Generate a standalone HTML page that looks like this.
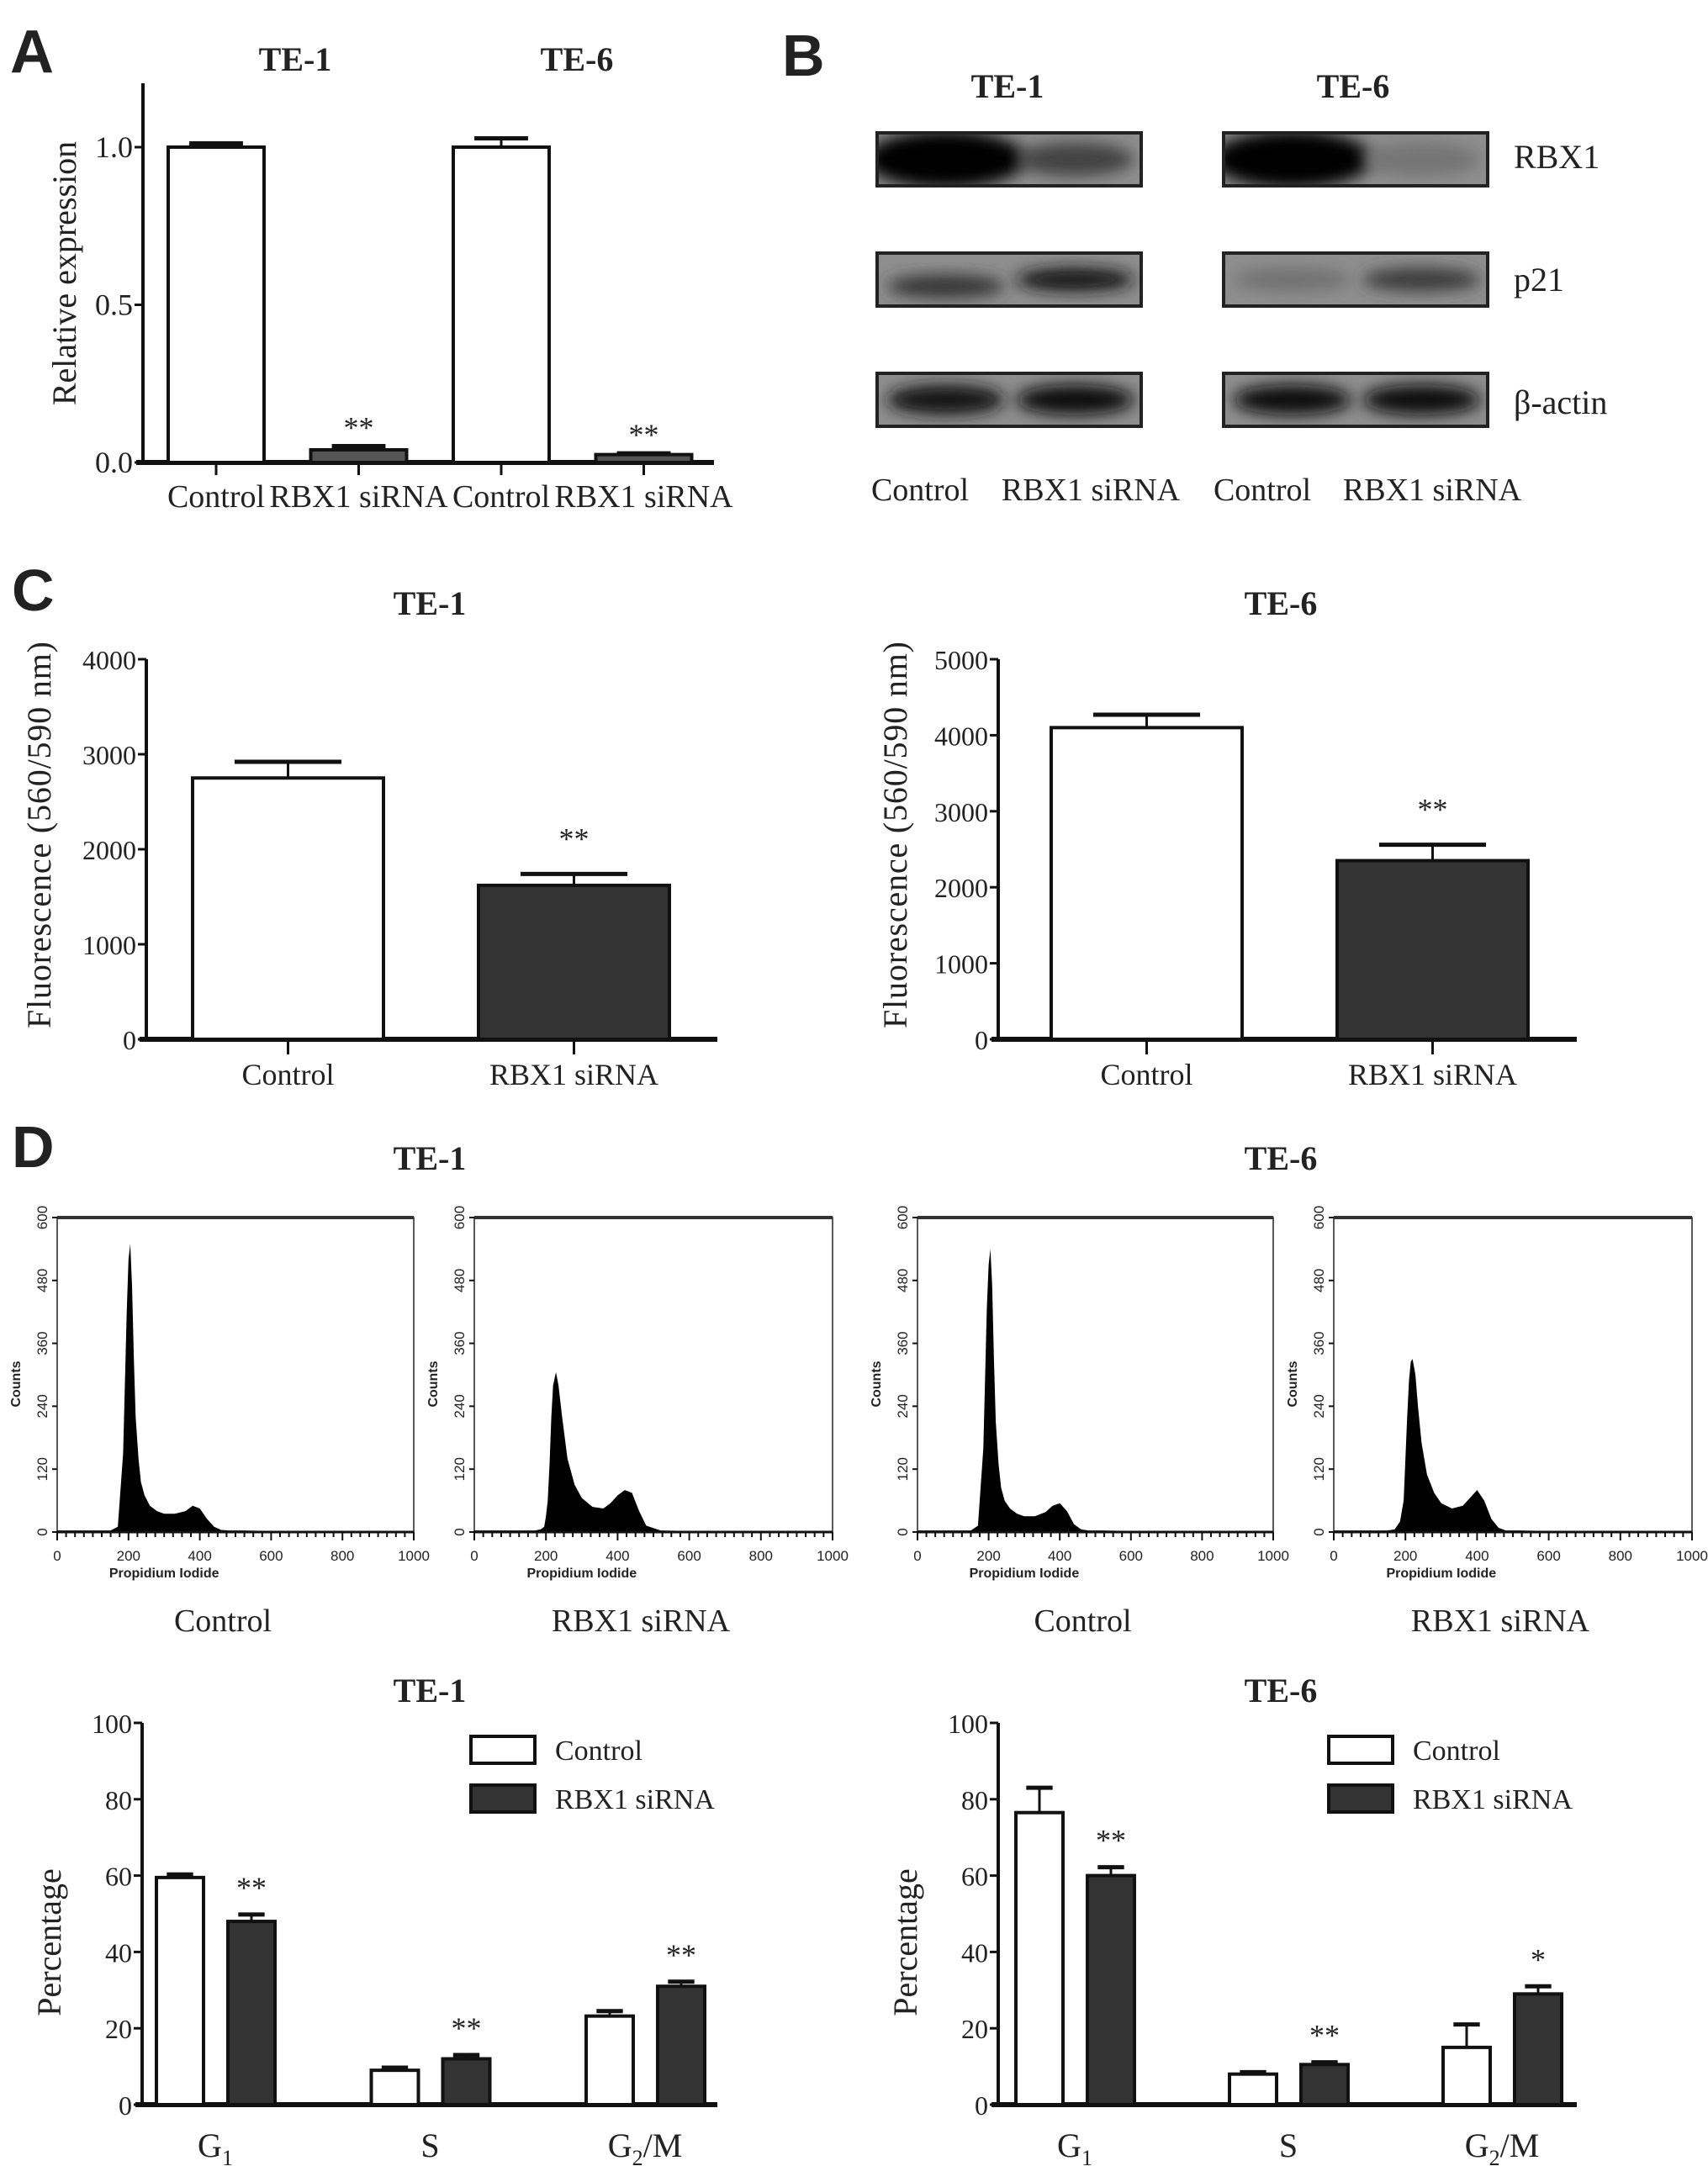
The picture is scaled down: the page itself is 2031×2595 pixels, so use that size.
<!DOCTYPE html>
<html><head><meta charset="utf-8">
<style>
html,body{margin:0;padding:0;background:#fff;}
svg{display:block;}
text{font-family:"Liberation Serif",serif;fill:#222;}
.sans{font-family:"Liberation Sans",sans-serif;}
</style></head>
<body>
<svg id="fig" width="2031" height="2595" viewBox="0 0 2031 2595" xmlns="http://www.w3.org/2000/svg">
<defs>
<filter id="blur8" x="-50%" y="-50%" width="200%" height="200%"><feGaussianBlur stdDeviation="9"/></filter>
</defs>
<text class="sans" x="12" y="86" font-size="72" font-weight="bold" fill="#000">A</text>
<text class="sans" x="930" y="90" font-size="70" font-weight="bold" fill="#000">B</text>
<text class="sans" x="14" y="726" font-size="70" font-weight="bold" fill="#000">C</text>
<text class="sans" x="14" y="1388" font-size="70" font-weight="bold" fill="#000">D</text>

<text x="351" y="84" font-size="40" font-weight="bold" text-anchor="middle">TE-1</text>
<text x="686" y="84" font-size="40" font-weight="bold" text-anchor="middle">TE-6</text>
<text x="1198" y="116" font-size="40" font-weight="bold" text-anchor="middle">TE-1</text>
<text x="1609" y="116" font-size="40" font-weight="bold" text-anchor="middle">TE-6</text>
<text x="511" y="731" font-size="40" font-weight="bold" text-anchor="middle">TE-1</text>
<text x="1523" y="731" font-size="40" font-weight="bold" text-anchor="middle">TE-6</text>
<text x="511" y="1391" font-size="40" font-weight="bold" text-anchor="middle">TE-1</text>
<text x="1523" y="1391" font-size="40" font-weight="bold" text-anchor="middle">TE-6</text>
<text x="511" y="2024" font-size="40" font-weight="bold" text-anchor="middle">TE-1</text>
<text x="1523" y="2024" font-size="40" font-weight="bold" text-anchor="middle">TE-6</text>

<g id="gA"></g>
<g id="gB"></g>
<g id="gC1"></g>
<g id="gC2"></g>
<g id="gH"></g>
<g id="gD1"></g>
<g id="gD2"></g>
</svg>
<script>
// ---------- data ----------
const aCategories = ["Control","RBX1 siRNA","Control","RBX1 siRNA"];
const aValues = [1.0, 0.04, 1.0, 0.025];
const aErrors = [0.012, 0.012, 0.028, 0.004];
const aSig = ["", "**", "", "**"];
const aTicks = [0.0, 0.5, 1.0];
const aTickLabels = ["0.0","0.5","1.0"];

const cCategories = ["Control","RBX1 siRNA"];
const c1Values = [2750, 1620];
const c1Errors = [170, 120];
const c2Values = [4100, 2350];
const c2Errors = [170, 210];
const cSig = ["", "**"];
const c1Ticks = [0,1000,2000,3000,4000];
const c2Ticks = [0,1000,2000,3000,4000,5000];

const dCategories = ["G1","S","G2/M"];
const d1Control = [59.5, 9.0, 23.2];
const d1ControlErr = [0.8, 0.7, 1.3];
const d1Sirna = [48.0, 12.0, 31.0];
const d1SirnaErr = [1.8, 1.0, 1.2];
const d1Sig = ["**","**","**"];
const d2Control = [76.5, 8.0, 15.0];
const d2ControlErr = [6.5, 0.5, 6.0];
const d2Sirna = [60.0, 10.5, 29.0];
const d2SirnaErr = [2.2, 0.6, 2.0];
const d2Sig = ["**","**","*"];
const dTicks = [0,20,40,60,80,100];

const histChannels = [0,150,170,185,195,200,205,210,215,220,228,235,245,260,280,300,330,360,380,400,420,440,460,480,520,600,800,1000];
const histTe1Control = [3,3,10,150,420,520,550,470,330,220,140,95,70,50,40,35,35,40,50,45,25,10,4,3,3,2,2,2];
const histTe1Sirna =   [3,3,3,5,10,30,60,130,220,280,305,280,220,140,90,65,48,45,55,70,80,75,40,12,3,2,2,2];
const histTe6Control = [3,3,12,160,430,510,540,470,330,210,130,85,60,45,35,30,30,38,50,55,40,15,5,3,3,2,2,2];
const histTe6Sirna =   [3,3,5,20,60,140,220,290,325,330,300,240,170,110,75,55,45,50,65,80,60,25,8,3,3,2,2,2];
const histXTicks = [0,200,400,600,800,1000];
const histYTicks = [0,120,240,360,480,600];

// ---------- helpers ----------
const NS = "http://www.w3.org/2000/svg";
function mk(parent, tag, attrs, txt){
  const e = document.createElementNS(NS, tag);
  for (const k in attrs) e.setAttribute(k, attrs[k]);
  if (txt !== undefined) e.textContent = txt;
  parent.appendChild(e);
  return e;
}

function barChart(g, o){
  const yScale = v => o.y0 - (v / o.vmax) * (o.y0 - o.yMaxPx);
  const axY = mk(g, "line", {x1:o.axisX, y1:o.y0+2, x2:o.axisX, y2:o.axisTop, stroke:"#111","stroke-width":4});
  
  
  const axX = mk(g, "line", {x1:o.axisX-8, y1:o.y0, x2:o.axisEnd, y2:o.y0, stroke:"#111","stroke-width":6});
  
  
  o.ticks.forEach((t,i)=>{
    const y = yScale(t);
    mk(g, "line", {x1:o.axisX-10, y1:y, x2:o.axisX, y2:y, stroke:"#111","stroke-width":3});
    const tl = mk(g, "text", {x:o.axisX-12, y:y+12, "font-size":o.tickFont, "text-anchor":"end", fill:"#444"}, o.tickLabels[i]);
    
    
  });
  o.bars.forEach(b=>{
    const yt = yScale(b.v);
    const ye = yScale(b.v + b.e);
    const cx = b.x + b.w/2;
    if (b.e > 0){
      mk(g, "line", {x1:cx, y1:yt, x2:cx, y2:ye, stroke:"#111","stroke-width":3});
      mk(g, "line", {x1:cx - b.w*0.28, y1:ye, x2:cx + b.w*0.28, y2:ye, stroke:"#111","stroke-width":5});
    }
    const r = mk(g, "rect", {x:b.x, y:yt, width:b.w, height:o.y0-yt, fill:b.fill, stroke:"#111","stroke-width":4});
    
    
    if (b.sig){
      const s = mk(g, "text", {x:cx, y:ye - o.sigGap, "font-size":o.sigFont, "text-anchor":"middle", fill:"#333"}, b.sig);
      
      
    }
  });
  return yScale;
}

// ---------- Panel A ----------
(function(){
  const g = document.getElementById("gA");
  const bars = aValues.map((v,i)=>({x:200 + i*169.5, w:114, v:v, e:aErrors[i], fill: i%2 ? "#555" : "#fff", sig:aSig[i], name:"bar-a-"+(i+1)}));
  barChart(g, {axisX:170, axisEnd:849, y0:550, yMaxPx:175, vmax:1.0, axisTop:99, ticks:aTicks, tickLabels:aTickLabels, bars:bars, tickFont:36, sigGap:10, sigFont:36});
  bars.forEach((b,i)=>{
    const cx = b.x + b.w/2;
    mk(g, "line", {x1:cx, y1:550, x2:cx, y2:565, stroke:"#111","stroke-width":3});
    const t = mk(g, "text", {x:cx, y:603, "font-size":38, "text-anchor":"middle", fill:"#222"}, aCategories[i]);
    
    
  });
  const yt = mk(g, "text", {x:0, y:0, "font-size":40, "text-anchor":"middle", transform:"translate(90,325) rotate(-90)", fill:"#222"}, "Relative expression");
  
  
})();

// ---------- Panel B (blots) ----------
(function(){
  const g = document.getElementById("gB");
  const boxesX = [1043, 1455];
  const rowsY = [158, 301, 444];
  const bw = 314, bh = 63;
  const bands = [
    [[1.0,0.55],[1.0,0.18]],
    [[0.65,0.85],[0.2,0.6]],
    [[0.9,0.92],[0.95,0.95]]
  ];
  const rowNames = ["rbx1","p21","beta-actin"];
  rowsY.forEach((y,ri)=>{
    boxesX.forEach((x,bi)=>{
      const bg = mk(g, "rect", {x:x, y:y, width:bw, height:bh, fill:"#8e8e8e", stroke:"#222","stroke-width":4});
      
      
      const clip = mk(g, "clipPath", {id:"cp"+ri+bi});
      mk(clip, "rect", {x:x+2, y:y+2, width:bw-4, height:bh-4});
      const cg = mk(g, "g", {"clip-path":"url(#cp"+ri+bi+")"});
      [0,1].forEach(li=>{
        const inten = bands[ri][bi][li];
        const cx = x + (li ? 0.75 : 0.26)*bw;
        const ry = ri===0 ? (li===0 ? 34 : 20) : (ri===1 ? 14 : 18);
        const cy = y + bh/2 + (ri===1 && li===0 && bi===0 ? 8 : 0);
        const rx = ri===0 && li===0 ? 95 : 70;
        const shade = Math.round(140 - inten*135);
        mk(cg, "ellipse", {cx:cx, cy:cy, rx:rx, ry:ry, fill:"rgb("+shade+","+shade+","+shade+")", filter:"url(#blur8)"});
      });
      mk(g, "rect", {x:x, y:y, width:bw, height:bh, fill:"none", stroke:"#222","stroke-width":4});
    });
  });
  const labels = [["RBX1",1800,200],["p21",1800,346],["β-actin",1800,492]];
  labels.forEach(l=>{
    const t = mk(g, "text", {x:l[1], y:l[2], "font-size":40, fill:"#222"}, l[0]);
    
    
  });
  const bl = [["Control",1094],["RBX1 siRNA",1297],["Control",1501],["RBX1 siRNA",1703]];
  bl.forEach(l=>{
    const t = mk(g, "text", {x:l[1], y:595, "font-size":38, "text-anchor":"middle", fill:"#222"}, l[0]);
    
    
  });
})();

// ---------- Panel C ----------
function cChart(id, axisX, axisEnd, vals, errs, ticks, vmax, barX, ylabX){
  const g = document.getElementById(id);
  const bars = vals.map((v,i)=>({x:barX + i*340, w:227, v:v, e:errs[i], fill:i ? "#333" : "#fff", sig:cSig[i], name:"bar-c-"+(i?"sirna":"control")}));
  barChart(g, {axisX:axisX, axisEnd:axisEnd, y0:1236, yMaxPx:784, vmax:vmax, axisTop:784, ticks:ticks, tickLabels:ticks.map(String), bars:bars, tickFont:32, sigGap:30, sigFont:36});
  bars.forEach((b,i)=>{
    const cx = b.x + b.w/2;
    mk(g, "line", {x1:cx, y1:1236, x2:cx, y2:1254, stroke:"#111","stroke-width":3});
    const t = mk(g, "text", {x:cx, y:1290, "font-size":36, "text-anchor":"middle", fill:"#222"}, cCategories[i]);
    
    
  });
  const yt = mk(g, "text", {x:0, y:0, "font-size":40, "text-anchor":"middle", textLength:460, lengthAdjust:"spacing", transform:"translate("+ylabX+",993) rotate(-90)", fill:"#222"}, "Fluorescence (560/590 nm)");
  
  
}
cChart("gC1", 174, 853, c1Values, c1Errors, c1Ticks, 4000, 229, 60);
cChart("gC2", 1187, 1875, c2Values, c2Errors, c2Ticks, 5000, 1250, 1078);

// ---------- Panel D histograms ----------
(function(){
  const g = document.getElementById("gH");
  const plots = [
    {x0:68, x1:492, data:histTe1Control, label:"Control", name:"histogram-te1-control"},
    {x0:564, x1:990, data:histTe1Sirna, label:"RBX1 siRNA", name:"histogram-te1-sirna"},
    {x0:1091, x1:1514, data:histTe6Control, label:"Control", name:"histogram-te6-control"},
    {x0:1586, x1:2012, data:histTe6Sirna, label:"RBX1 siRNA", name:"histogram-te6-sirna"}
  ];
  const yTop = 1448, y0 = 1822;
  plots.forEach(p=>{
    const sx = c => p.x0 + (c/1000)*(p.x1 - p.x0);
    const sy = v => y0 - (v/600)*(y0 - yTop);
    const pg = mk(g, "g", {});
    
    
    mk(pg, "rect", {x:p.x0, y:yTop, width:p.x1-p.x0, height:y0-yTop, fill:"#fff", stroke:"#222","stroke-width":1.5});
    mk(pg, "line", {x1:p.x0, y1:yTop, x2:p.x1, y2:yTop, stroke:"#333","stroke-width":4});
    let d = "M" + sx(histChannels[0]) + "," + y0;
    histChannels.forEach((c,i)=>{ d += " L" + sx(c).toFixed(1) + "," + sy(p.data[i]).toFixed(1); });
    d += " L" + sx(histChannels[histChannels.length-1]) + "," + y0 + " Z";
    const ar = mk(pg, "path", {d:d, fill:"#000"});
    
    
    mk(pg, "line", {x1:p.x0, y1:y0, x2:p.x1, y2:y0, stroke:"#111","stroke-width":3});
    for (let c=0;c<=1000;c+=25){
      const big = c % 200 === 0;
      mk(pg, "line", {x1:sx(c), y1:y0, x2:sx(c), y2:y0 + (big?10:6), stroke:"#111","stroke-width":2});
    }
    histXTicks.forEach(c=>{
      const t = mk(pg, "text", {x:sx(c), y:y0+34, "font-size":17, "text-anchor":"middle", class:"sans", fill:"#222"}, String(c));
      
      
    });
    histYTicks.forEach(v=>{
      const y = sy(v);
      mk(pg, "line", {x1:p.x0-6, y1:y, x2:p.x0, y2:y, stroke:"#111","stroke-width":2});
      const t = mk(pg, "text", {x:0, y:0, "font-size":17, "text-anchor":"middle", class:"sans", transform:"translate("+(p.x0-12)+","+y+") rotate(-90)", fill:"#222"}, String(v));
      
      
    });
    const ct = mk(pg, "text", {x:0, y:0, "font-size":16, "font-weight":"bold", "text-anchor":"middle", class:"sans", transform:"translate("+(p.x0-44)+",1646) rotate(-90)", fill:"#222"}, "Counts");
    
    
    const xt = mk(pg, "text", {x:sx(300), y:y0+54, "font-size":16, "font-weight":"bold", "text-anchor":"middle", class:"sans", fill:"#222"}, "Propidium Iodide");
    
    
    const lb = mk(pg, "text", {x:(p.x0+p.x1)/2 - 15, y:1940, "font-size":38, "text-anchor":"middle", fill:"#222"}, p.label);
    
    
  });
})();

// ---------- Panel D bar charts ----------
function dChart(id, axisX, axisEnd, start, step, ctrl, ctrlE, sir, sirE, sig, legX, yTitleX){
  const g = document.getElementById(id);
  const bars = [];
  dCategories.forEach((c,i)=>{
    bars.push({x:start + i*step, w:56, v:ctrl[i], e:ctrlE[i], fill:"#fff", sig:"", name:"bar-control-"+c});
    bars.push({x:start + i*step + 85, w:56, v:sir[i], e:sirE[i], fill:"#333", sig:sig[i], name:"bar-sirna-"+c});
  });
  barChart(g, {axisX:axisX, axisEnd:axisEnd, y0:2503, yMaxPx:2049, vmax:100, axisTop:2049, ticks:dTicks, tickLabels:dTicks.map(String), bars:bars, tickFont:32, sigGap:20, sigFont:36});
  dCategories.forEach((c,i)=>{
    const cx = start + i*step + 70;
    const t = mk(g, "text", {x:cx, y:2565, "font-size":40, "text-anchor":"middle", fill:"#222"});
    
    
    if (c === "G1"){ t.textContent = "G"; mk(t, "tspan", {dy:10, "font-size":26}, "1"); }
    else if (c === "G2/M"){ t.textContent = "G"; mk(t, "tspan", {dy:10, "font-size":26}, "2"); mk(t, "tspan", {dy:-10}, "/M"); }
    else t.textContent = c;
  });
  const yt = mk(g, "text", {x:0, y:0, "font-size":40, "text-anchor":"middle", transform:"translate("+yTitleX+",2310) rotate(-90)", fill:"#222"}, "Percentage");
  
  
  const leg = [["Control","#fff",2081],["RBX1 siRNA","#333",2139]];
  leg.forEach(l=>{
    const r = mk(g, "rect", {x:legX, y:l[2]-16, width:76, height:32, fill:l[1], stroke:"#111","stroke-width":4});
    
    
    const t = mk(g, "text", {x:legX+100, y:l[2]+12, "font-size":34, fill:"#222"}, l[0]);
    
    
  });
}
dChart("gD1", 169, 853, 186, 255.5, d1Control, d1ControlErr, d1Sirna, d1SirnaErr, d1Sig, 560, 72);
dChart("gD2", 1187, 1875, 1208, 254, d2Control, d2ControlErr, d2Sirna, d2SirnaErr, d2Sig, 1580, 1090);
</script>
</body></html>
